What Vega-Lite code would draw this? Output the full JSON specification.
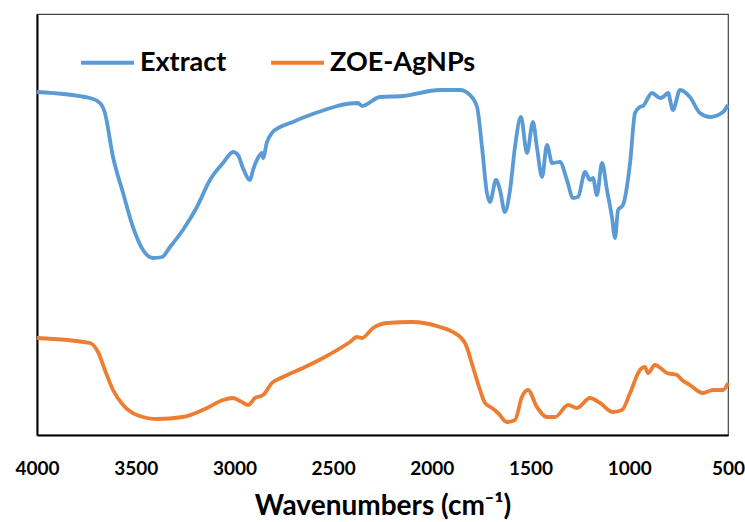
{
  "$schema": "https://vega.github.io/schema/vega-lite/v6.json",
  "width": 691,
  "height": 421,
  "autosize": {"type": "none"},
  "padding": {"left": 37, "top": 14, "right": 17, "bottom": 87},
  "background": "white",
  "config": {
    "font": "Lato",
    "view": {"stroke": "#444444", "strokeWidth": 1.2}
  },
  "data": {
    "values": [
      {"wn": 4000, "t": 343, "series": "Extract"},
      {"wn": 3732, "t": 337, "series": "Extract"},
      {"wn": 3681, "t": 332, "series": "Extract"},
      {"wn": 3656, "t": 322, "series": "Extract"},
      {"wn": 3615, "t": 278, "series": "Extract"},
      {"wn": 3564, "t": 242, "series": "Extract"},
      {"wn": 3514, "t": 208, "series": "Extract"},
      {"wn": 3463, "t": 185, "series": "Extract"},
      {"wn": 3412, "t": 177, "series": "Extract"},
      {"wn": 3367, "t": 178, "series": "Extract"},
      {"wn": 3326, "t": 188, "series": "Extract"},
      {"wn": 3261, "t": 205, "series": "Extract"},
      {"wn": 3190, "t": 228, "series": "Extract"},
      {"wn": 3124, "t": 255, "series": "Extract"},
      {"wn": 3058, "t": 272, "series": "Extract"},
      {"wn": 3007, "t": 283, "series": "Extract"},
      {"wn": 2982, "t": 280, "series": "Extract"},
      {"wn": 2957, "t": 267, "series": "Extract"},
      {"wn": 2921, "t": 255, "series": "Extract"},
      {"wn": 2906, "t": 265, "series": "Extract"},
      {"wn": 2881, "t": 277, "series": "Extract"},
      {"wn": 2860, "t": 282, "series": "Extract"},
      {"wn": 2855, "t": 277, "series": "Extract"},
      {"wn": 2835, "t": 293, "series": "Extract"},
      {"wn": 2810, "t": 302, "series": "Extract"},
      {"wn": 2769, "t": 308, "series": "Extract"},
      {"wn": 2719, "t": 312, "series": "Extract"},
      {"wn": 2617, "t": 320, "series": "Extract"},
      {"wn": 2374, "t": 332, "series": "Extract"},
      {"wn": 2354, "t": 329, "series": "Extract"},
      {"wn": 2263, "t": 338, "series": "Extract"},
      {"wn": 2146, "t": 339, "series": "Extract"},
      {"wn": 1960, "t": 345, "series": "Extract"},
      {"wn": 1857, "t": 345, "series": "Extract"},
      {"wn": 1807, "t": 340, "series": "Extract"},
      {"wn": 1771, "t": 328, "series": "Extract"},
      {"wn": 1746, "t": 288, "series": "Extract"},
      {"wn": 1721, "t": 242, "series": "Extract"},
      {"wn": 1706, "t": 233, "series": "Extract"},
      {"wn": 1675, "t": 255, "series": "Extract"},
      {"wn": 1655, "t": 245, "series": "Extract"},
      {"wn": 1630, "t": 223, "series": "Extract"},
      {"wn": 1604, "t": 245, "series": "Extract"},
      {"wn": 1579, "t": 288, "series": "Extract"},
      {"wn": 1549, "t": 318, "series": "Extract"},
      {"wn": 1518, "t": 282, "series": "Extract"},
      {"wn": 1488, "t": 313, "series": "Extract"},
      {"wn": 1468, "t": 288, "series": "Extract"},
      {"wn": 1442, "t": 258, "series": "Extract"},
      {"wn": 1417, "t": 290, "series": "Extract"},
      {"wn": 1391, "t": 272, "series": "Extract"},
      {"wn": 1351, "t": 273, "series": "Extract"},
      {"wn": 1316, "t": 255, "series": "Extract"},
      {"wn": 1285, "t": 237, "series": "Extract"},
      {"wn": 1260, "t": 238, "series": "Extract"},
      {"wn": 1224, "t": 263, "series": "Extract"},
      {"wn": 1199, "t": 255, "series": "Extract"},
      {"wn": 1184, "t": 257, "series": "Extract"},
      {"wn": 1164, "t": 240, "series": "Extract"},
      {"wn": 1138, "t": 272, "series": "Extract"},
      {"wn": 1113, "t": 245, "series": "Extract"},
      {"wn": 1088, "t": 218, "series": "Extract"},
      {"wn": 1072, "t": 197, "series": "Extract"},
      {"wn": 1057, "t": 225, "series": "Extract"},
      {"wn": 1032, "t": 230, "series": "Extract"},
      {"wn": 996, "t": 272, "series": "Extract"},
      {"wn": 971, "t": 322, "series": "Extract"},
      {"wn": 946, "t": 328, "series": "Extract"},
      {"wn": 931, "t": 329, "series": "Extract"},
      {"wn": 885, "t": 342, "series": "Extract"},
      {"wn": 844, "t": 337, "series": "Extract"},
      {"wn": 829, "t": 338, "series": "Extract"},
      {"wn": 804, "t": 342, "series": "Extract"},
      {"wn": 779, "t": 325, "series": "Extract"},
      {"wn": 743, "t": 345, "series": "Extract"},
      {"wn": 693, "t": 338, "series": "Extract"},
      {"wn": 642, "t": 322, "series": "Extract"},
      {"wn": 591, "t": 318, "series": "Extract"},
      {"wn": 525, "t": 323, "series": "Extract"},
      {"wn": 500, "t": 330, "series": "Extract"},
      {"wn": 4000, "t": 97, "series": "ZOE-AgNPs"},
      {"wn": 3732, "t": 92, "series": "ZOE-AgNPs"},
      {"wn": 3691, "t": 83, "series": "ZOE-AgNPs"},
      {"wn": 3656, "t": 65, "series": "ZOE-AgNPs"},
      {"wn": 3615, "t": 45, "series": "ZOE-AgNPs"},
      {"wn": 3564, "t": 30, "series": "ZOE-AgNPs"},
      {"wn": 3494, "t": 20, "series": "ZOE-AgNPs"},
      {"wn": 3392, "t": 16, "series": "ZOE-AgNPs"},
      {"wn": 3261, "t": 18, "series": "ZOE-AgNPs"},
      {"wn": 3139, "t": 27, "series": "ZOE-AgNPs"},
      {"wn": 3058, "t": 35, "series": "ZOE-AgNPs"},
      {"wn": 3007, "t": 37, "series": "ZOE-AgNPs"},
      {"wn": 2972, "t": 34, "series": "ZOE-AgNPs"},
      {"wn": 2931, "t": 30, "series": "ZOE-AgNPs"},
      {"wn": 2896, "t": 37, "series": "ZOE-AgNPs"},
      {"wn": 2855, "t": 40, "series": "ZOE-AgNPs"},
      {"wn": 2810, "t": 52, "series": "ZOE-AgNPs"},
      {"wn": 2754, "t": 58, "series": "ZOE-AgNPs"},
      {"wn": 2653, "t": 67, "series": "ZOE-AgNPs"},
      {"wn": 2551, "t": 77, "series": "ZOE-AgNPs"},
      {"wn": 2415, "t": 93, "series": "ZOE-AgNPs"},
      {"wn": 2379, "t": 98, "series": "ZOE-AgNPs"},
      {"wn": 2354, "t": 97, "series": "ZOE-AgNPs"},
      {"wn": 2298, "t": 107, "series": "ZOE-AgNPs"},
      {"wn": 2227, "t": 112, "series": "ZOE-AgNPs"},
      {"wn": 2100, "t": 113, "series": "ZOE-AgNPs"},
      {"wn": 1959, "t": 108, "series": "ZOE-AgNPs"},
      {"wn": 1893, "t": 103, "series": "ZOE-AgNPs"},
      {"wn": 1832, "t": 92, "series": "ZOE-AgNPs"},
      {"wn": 1792, "t": 68, "series": "ZOE-AgNPs"},
      {"wn": 1756, "t": 45, "series": "ZOE-AgNPs"},
      {"wn": 1731, "t": 32, "series": "ZOE-AgNPs"},
      {"wn": 1695, "t": 27, "series": "ZOE-AgNPs"},
      {"wn": 1665, "t": 22, "series": "ZOE-AgNPs"},
      {"wn": 1620, "t": 13, "series": "ZOE-AgNPs"},
      {"wn": 1579, "t": 15, "series": "ZOE-AgNPs"},
      {"wn": 1544, "t": 38, "series": "ZOE-AgNPs"},
      {"wn": 1513, "t": 45, "series": "ZOE-AgNPs"},
      {"wn": 1468, "t": 28, "series": "ZOE-AgNPs"},
      {"wn": 1417, "t": 18, "series": "ZOE-AgNPs"},
      {"wn": 1376, "t": 18, "series": "ZOE-AgNPs"},
      {"wn": 1310, "t": 30, "series": "ZOE-AgNPs"},
      {"wn": 1265, "t": 27, "series": "ZOE-AgNPs"},
      {"wn": 1199, "t": 37, "series": "ZOE-AgNPs"},
      {"wn": 1148, "t": 32, "series": "ZOE-AgNPs"},
      {"wn": 1083, "t": 23, "series": "ZOE-AgNPs"},
      {"wn": 1037, "t": 25, "series": "ZOE-AgNPs"},
      {"wn": 996, "t": 42, "series": "ZOE-AgNPs"},
      {"wn": 946, "t": 65, "series": "ZOE-AgNPs"},
      {"wn": 921, "t": 68, "series": "ZOE-AgNPs"},
      {"wn": 905, "t": 62, "series": "ZOE-AgNPs"},
      {"wn": 870, "t": 70, "series": "ZOE-AgNPs"},
      {"wn": 809, "t": 62, "series": "ZOE-AgNPs"},
      {"wn": 758, "t": 60, "series": "ZOE-AgNPs"},
      {"wn": 733, "t": 55, "series": "ZOE-AgNPs"},
      {"wn": 693, "t": 50, "series": "ZOE-AgNPs"},
      {"wn": 627, "t": 42, "series": "ZOE-AgNPs"},
      {"wn": 576, "t": 45, "series": "ZOE-AgNPs"},
      {"wn": 525, "t": 45, "series": "ZOE-AgNPs"},
      {"wn": 500, "t": 52, "series": "ZOE-AgNPs"}
    ]
  },
  "mark": {"type": "line", "strokeWidth": 3.8, "interpolate": "monotone"},
  "encoding": {
    "x": {
      "field": "wn",
      "type": "quantitative",
      "scale": {"domain": [500, 4000], "reverse": true, "nice": false, "zero": false},
      "axis": {
        "values": [4000, 3500, 3000, 2500, 2000, 1500, 1000, 500],
        "format": "d",
        "grid": false,
        "ticks": false,
        "tickSize": 0,
        "domainColor": "black",
        "domainWidth": 2,
        "labelFont": "Lato",
        "labelFontWeight": "bold",
        "labelFontSize": 19,
        "labelColor": "black",
        "labelPadding": 24,
        "labelFlush": false,
        "labelOverlap": false,
        "title": "Wavenumbers (cm⁻¹)",
        "titleFont": "Lato",
        "titleFontWeight": "bold",
        "titleFontSize": 28,
        "titleColor": "black",
        "titlePadding": 14
      }
    },
    "y": {
      "field": "t",
      "type": "quantitative",
      "scale": {"domain": [0, 421], "nice": false},
      "axis": {
        "labels": false,
        "ticks": false,
        "grid": false,
        "title": null,
        "domainColor": "black",
        "domainWidth": 2
      }
    },
    "color": {
      "field": "series",
      "type": "nominal",
      "scale": {"domain": ["Extract", "ZOE-AgNPs"], "range": ["#5B9BD5", "#ED7D31"]},
      "legend": {
        "title": null,
        "orient": "none",
        "legendX": 42,
        "legendY": 20,
        "direction": "horizontal",
        "columns": 2,
        "columnPadding": 36,
        "symbolType": "stroke",
        "symbolSize": 2800,
        "symbolStrokeWidth": 4,
        "labelFont": "Lato",
        "labelFontWeight": "bold",
        "labelFontSize": 27,
        "labelColor": "black",
        "labelOffset": 4,
        "labelLimit": 400
      }
    }
  }
}
